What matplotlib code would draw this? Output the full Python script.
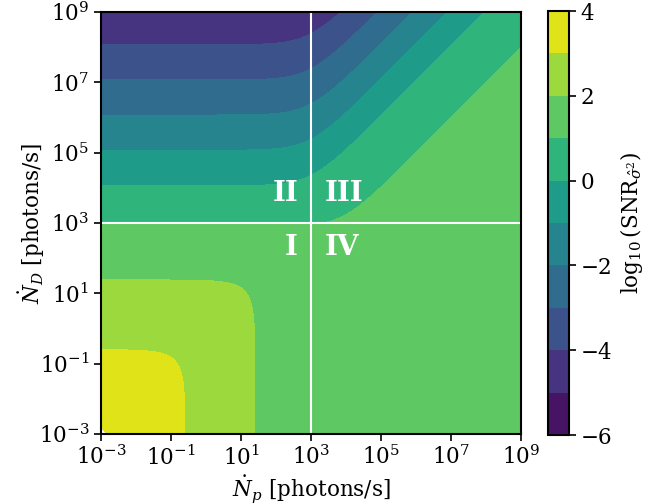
import numpy as np
import matplotlib
matplotlib.use('Agg')
import matplotlib.pyplot as plt
from matplotlib.ticker import NullLocator

plt.rcParams['font.family'] = ['DejaVu Serif']
plt.rcParams['mathtext.fontset'] = 'dejavuserif'
plt.rcParams['font.size'] = 15.5

c_knee = 933.0   # photons/s where the contours bend (~10^2.97)
beta = 3.47      # shot-noise term (Np + ND)
gamma = 0.0063   # ND^2 term
delta = 0.0081   # Np^2 term (saturation in region IV)
eps = 0.0188     # Np*ND cross term

levels = list(range(-6, 5))
cbar_ticks = [-6, -4, -2, 0, 2, 4]
decade_ticks = [1e-3, 1e-1, 1e1, 1e3, 1e5, 1e7, 1e9]
quad_split = 1e3
region_names = ['I', 'II', 'III', 'IV']

# label placement (log10 of coordinates)
region_lx = [2.63, 2.63, 3.4, 3.4]
region_ly = [2.3, 3.84, 3.84, 2.3]
region_ha = ['right', 'right', 'left', 'left']


def main():
    np_rate = np.logspace(-3, 9, 700)
    nd_rate = np.logspace(-3, 9, 700)
    NP, ND = np.meshgrid(np_rate, nd_rate)
    noise = beta * (NP + ND) + gamma * ND**2 + delta * NP**2 + eps * NP * ND
    log_snr = np.log10((NP + c_knee) / np.sqrt(noise))

    fig = plt.figure(figsize=(6.52, 5.03), dpi=100)
    ax = fig.add_axes([101 / 652, 69 / 503, 420 / 652, 422 / 503])
    cf = ax.contourf(NP, ND, log_snr, levels=levels, cmap='viridis')
    ax.set_xscale('log')
    ax.set_yscale('log')
    ax.set_xlim(1e-3, 1e9)
    ax.set_ylim(1e-3, 1e9)

    ax.axvline(quad_split, color='white', lw=1.5)
    ax.axhline(quad_split, color='white', lw=1.5)

    for name, lx, ly, ha in zip(region_names, region_lx, region_ly, region_ha):
        ax.text(10**lx, 10**ly, name, color='white', fontsize=20,
                fontweight='bold', ha=ha, va='center')

    ax.set_xticks(decade_ticks)
    ax.set_yticks(decade_ticks)
    ax.xaxis.set_minor_locator(NullLocator())
    ax.yaxis.set_minor_locator(NullLocator())
    ax.tick_params(width=1.2, length=5)
    for sp in ax.spines.values():
        sp.set_linewidth(1.5)

    ax.set_xlabel(r'$\dot{N}_p$ [photons/s]', labelpad=2)
    ax.set_ylabel(r'$\dot{N}_D$ [photons/s]', labelpad=-6)

    cax = fig.add_axes([548 / 652, 68 / 503, 21 / 652, 424 / 503])
    cb = fig.colorbar(cf, cax=cax, ticks=cbar_ticks)
    cb.outline.set_linewidth(1.5)
    cb.ax.tick_params(width=1.2, length=5)
    cb.set_label(r'$\log_{10}(\mathrm{SNR}_{\hat{\sigma}^2})$')

    fig.savefig('out.png', dpi=100)


main()
